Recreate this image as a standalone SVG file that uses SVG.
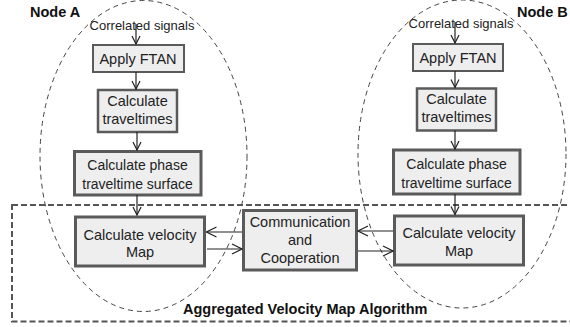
<svg xmlns="http://www.w3.org/2000/svg" width="570" height="327" viewBox="0 0 570 327">
<defs>
<style>
.t{font-family:"Liberation Sans",Arial,sans-serif;font-size:14.5px;fill:#222;text-anchor:middle}
.s{font-size:13px}
.b{font-weight:bold;text-anchor:start;fill:#111}
.box{fill:#eeeeef;stroke:#5a5a5a}
.ell{fill:none;stroke:#444;stroke-width:1;stroke-dasharray:5 4}
.ln{stroke:#222;stroke-width:1.2;fill:none}
</style>
<marker id="ah" viewBox="0 0 10 10" refX="9" refY="5" markerWidth="10" markerHeight="10" markerUnits="userSpaceOnUse" orient="auto">
<path d="M1,1 L9,5 L1,9" fill="none" stroke="#222" stroke-width="1.2"/>
</marker>
<marker id="ah2" viewBox="0 0 12 12" refX="11" refY="6" markerWidth="12" markerHeight="12" markerUnits="userSpaceOnUse" orient="auto">
<path d="M1,1 L11,6 L1,11" fill="none" stroke="#222" stroke-width="1.2"/>
</marker>
</defs>
<rect width="570" height="327" fill="#fff"/>
<g id="regions">
<ellipse class="ell" cx="143.5" cy="156" rx="103.5" ry="155.5"/>
<ellipse class="ell" cx="462" cy="154" rx="104" ry="154"/>
<rect x="12" y="205" width="570" height="116.5" fill="none" stroke="#555" stroke-width="2" stroke-dasharray="6 3"/>
</g>
<g id="labels">
<text class="t b" x="30" y="17">Node A</text>
<text class="t b" x="517" y="17">Node B</text>
<text class="t b" x="183" y="314">Aggregated Velocity Map Algorithm</text>
<text class="t s" x="142" y="30">Correlated signals</text>
<text class="t s" x="461" y="28">Correlated signals</text>
</g>
<g id="a-ftan"><rect class="box" x="93" y="45" width="91" height="27" stroke-width="2"/><text class="t" x="138" y="63.5">Apply FTAN</text></g>
<g id="a-travel"><rect class="box" x="98" y="90" width="79" height="42" stroke-width="2.5"/><text class="t" x="137.5" y="105.5">Calculate</text><text class="t" x="137.5" y="123.5">traveltimes</text></g>
<g id="a-phase"><rect class="box" x="74.5" y="151.5" width="126.5" height="43.5" stroke-width="3"/><text class="t" x="137.5" y="170" style="font-size:14px">Calculate phase</text><text class="t" x="137.5" y="189" style="font-size:14px">traveltime surface</text></g>
<g id="a-velocity"><rect class="box" x="75.5" y="217" width="129" height="49" stroke-width="3"/><text class="t" x="140" y="240">Calculate velocity</text><text class="t" x="140" y="257">Map</text></g>
<g id="comm"><rect class="box" x="243.5" y="210.5" width="113" height="59.5" stroke-width="3"/><text class="t" x="300" y="227">Communication</text><text class="t" x="300" y="245">and</text><text class="t" x="300" y="263">Cooperation</text></g>
<g id="b-ftan"><rect class="box" x="413" y="44" width="90" height="27" stroke-width="2"/><text class="t" x="458" y="63">Apply FTAN</text></g>
<g id="b-travel"><rect class="box" x="417" y="88.5" width="79" height="42" stroke-width="2.5"/><text class="t" x="456.5" y="104">Calculate</text><text class="t" x="456.5" y="122">traveltimes</text></g>
<g id="b-phase"><rect class="box" x="393.5" y="150" width="126.5" height="44" stroke-width="3"/><text class="t" x="456.5" y="168.5" style="font-size:14px">Calculate phase</text><text class="t" x="456.5" y="187.5" style="font-size:14px">traveltime surface</text></g>
<g id="b-velocity"><rect class="box" x="394.5" y="216" width="129" height="49" stroke-width="3"/><text class="t" x="459" y="238">Calculate velocity</text><text class="t" x="459" y="256">Map</text></g>
<g id="connectors">
<line class="ln" x1="136" y1="24" x2="136" y2="44" marker-end="url(#ah)"/>
<line class="ln" x1="136" y1="72" x2="136" y2="89" marker-end="url(#ah)"/>
<line class="ln" x1="137" y1="132" x2="137" y2="150" marker-end="url(#ah)"/>
<line class="ln" x1="137" y1="195" x2="137" y2="215" marker-end="url(#ah)"/>
<line class="ln" x1="455" y1="22" x2="455" y2="43" marker-end="url(#ah)"/>
<line class="ln" x1="455" y1="71" x2="455" y2="87.5" marker-end="url(#ah)"/>
<line class="ln" x1="455" y1="130.5" x2="455" y2="149" marker-end="url(#ah)"/>
<line class="ln" x1="455" y1="194" x2="455" y2="214.5" marker-end="url(#ah)"/>
<line class="ln" x1="242" y1="232" x2="206.5" y2="232" marker-end="url(#ah2)"/>
<line class="ln" x1="207" y1="249" x2="242" y2="249" marker-end="url(#ah2)"/>
<line class="ln" x1="393" y1="231" x2="358" y2="231" marker-end="url(#ah2)"/>
<line class="ln" x1="358" y1="251" x2="393" y2="251" marker-end="url(#ah2)"/>
</g>
</svg>
